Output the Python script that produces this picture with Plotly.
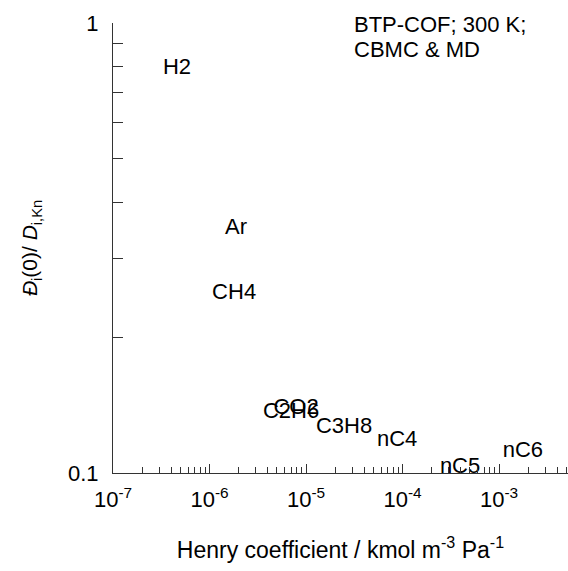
import plotly.graph_objects as go

# Henry coefficients (kmol m^-3 Pa^-1) and normalised zero-loading diffusivities
species = ["H2", "Ar", "CH4", "CO2", "C2H6", "C3H8", "nC4", "nC5", "nC6"]
henry = [4.6e-7, 1.88e-6, 1.8e-6, 7.9e-6, 7.0e-6, 2.48e-5, 8.8e-5, 3.95e-4, 1.77e-3]
d_ratio = [0.794, 0.350, 0.250, 0.1394, 0.136, 0.126, 0.1178, 0.1026, 0.1119]

x_tickvals = [1e-7, 1e-6, 1e-5, 1e-4, 1e-3]
x_ticktext = ["10<sup>-7</sup>", "10<sup>-6</sup>", "10<sup>-5</sup>", "10<sup>-4</sup>", "10<sup>-3</sup>"]
y_tickvals = [0.1, 1]
y_ticktext = ["0.1", "1"]

FONT = "Arial, Liberation Sans, sans-serif"

fig = go.Figure(
    go.Scatter(
        x=henry,
        y=d_ratio,
        mode="text",
        text=species,
        textposition="middle center",
        textfont=dict(family=FONT, size=22, color="black"),
        showlegend=False,
        cliponaxis=False,
    )
)

axis_common = dict(
    showgrid=False,
    zeroline=False,
    showline=True,
    linecolor="#333333",
    linewidth=1,
    ticks="inside",
    tickcolor="#333333",
    tickfont=dict(family=FONT, size=22, color="black"),
)

fig.update_xaxes(
    type="log",
    range=[-7, -2.285],
    tickmode="array",
    tickvals=x_tickvals,
    ticktext=x_ticktext,
    ticklen=9,
    ticklabelstandoff=7,
    minor=dict(ticks="inside", ticklen=6, dtick="D1", tickcolor="#333333", showgrid=False),
    title_text="Henry coefficient / kmol m<sup>-3</sup> Pa<sup>-1</sup>",
    title_font=dict(family=FONT, size=23, color="black"),
    title_standoff=30,
    **axis_common,
)
fig.update_yaxes(
    type="log",
    range=[-1, 0],
    tickmode="array",
    tickvals=y_tickvals,
    ticktext=y_ticktext,
    ticklen=10,
    ticklabelstandoff=9,
    minor=dict(ticks="inside", ticklen=10, dtick="D1", tickcolor="#333333", showgrid=False),
    title_text="<i>Đ</i><sub>i</sub>(0)/ <i>D</i><sub>i,Kn</sub>",
    title_font=dict(family=FONT, size=21, color="black"),
    title_standoff=24,
    **axis_common,
)

# Two-line caption in the upper right of the plot area
caption_lines = ["BTP-COF; 300 K;", "CBMC &amp; MD"]
caption_y = [0.9956, 0.942]
for line, yy in zip(caption_lines, caption_y):
    fig.add_annotation(
        xref="paper", yref="paper",
        x=(352 - 113) / 455, y=yy,
        xanchor="left", yanchor="middle",
        text=line,
        showarrow=False,
        font=dict(family=FONT, size=22, color="black"),
    )

fig.update_layout(
    width=568,
    height=571,
    margin=dict(l=113, r=0, t=23, b=98),
    paper_bgcolor="white",
    plot_bgcolor="white",
)

fig.write_html("out.html")
